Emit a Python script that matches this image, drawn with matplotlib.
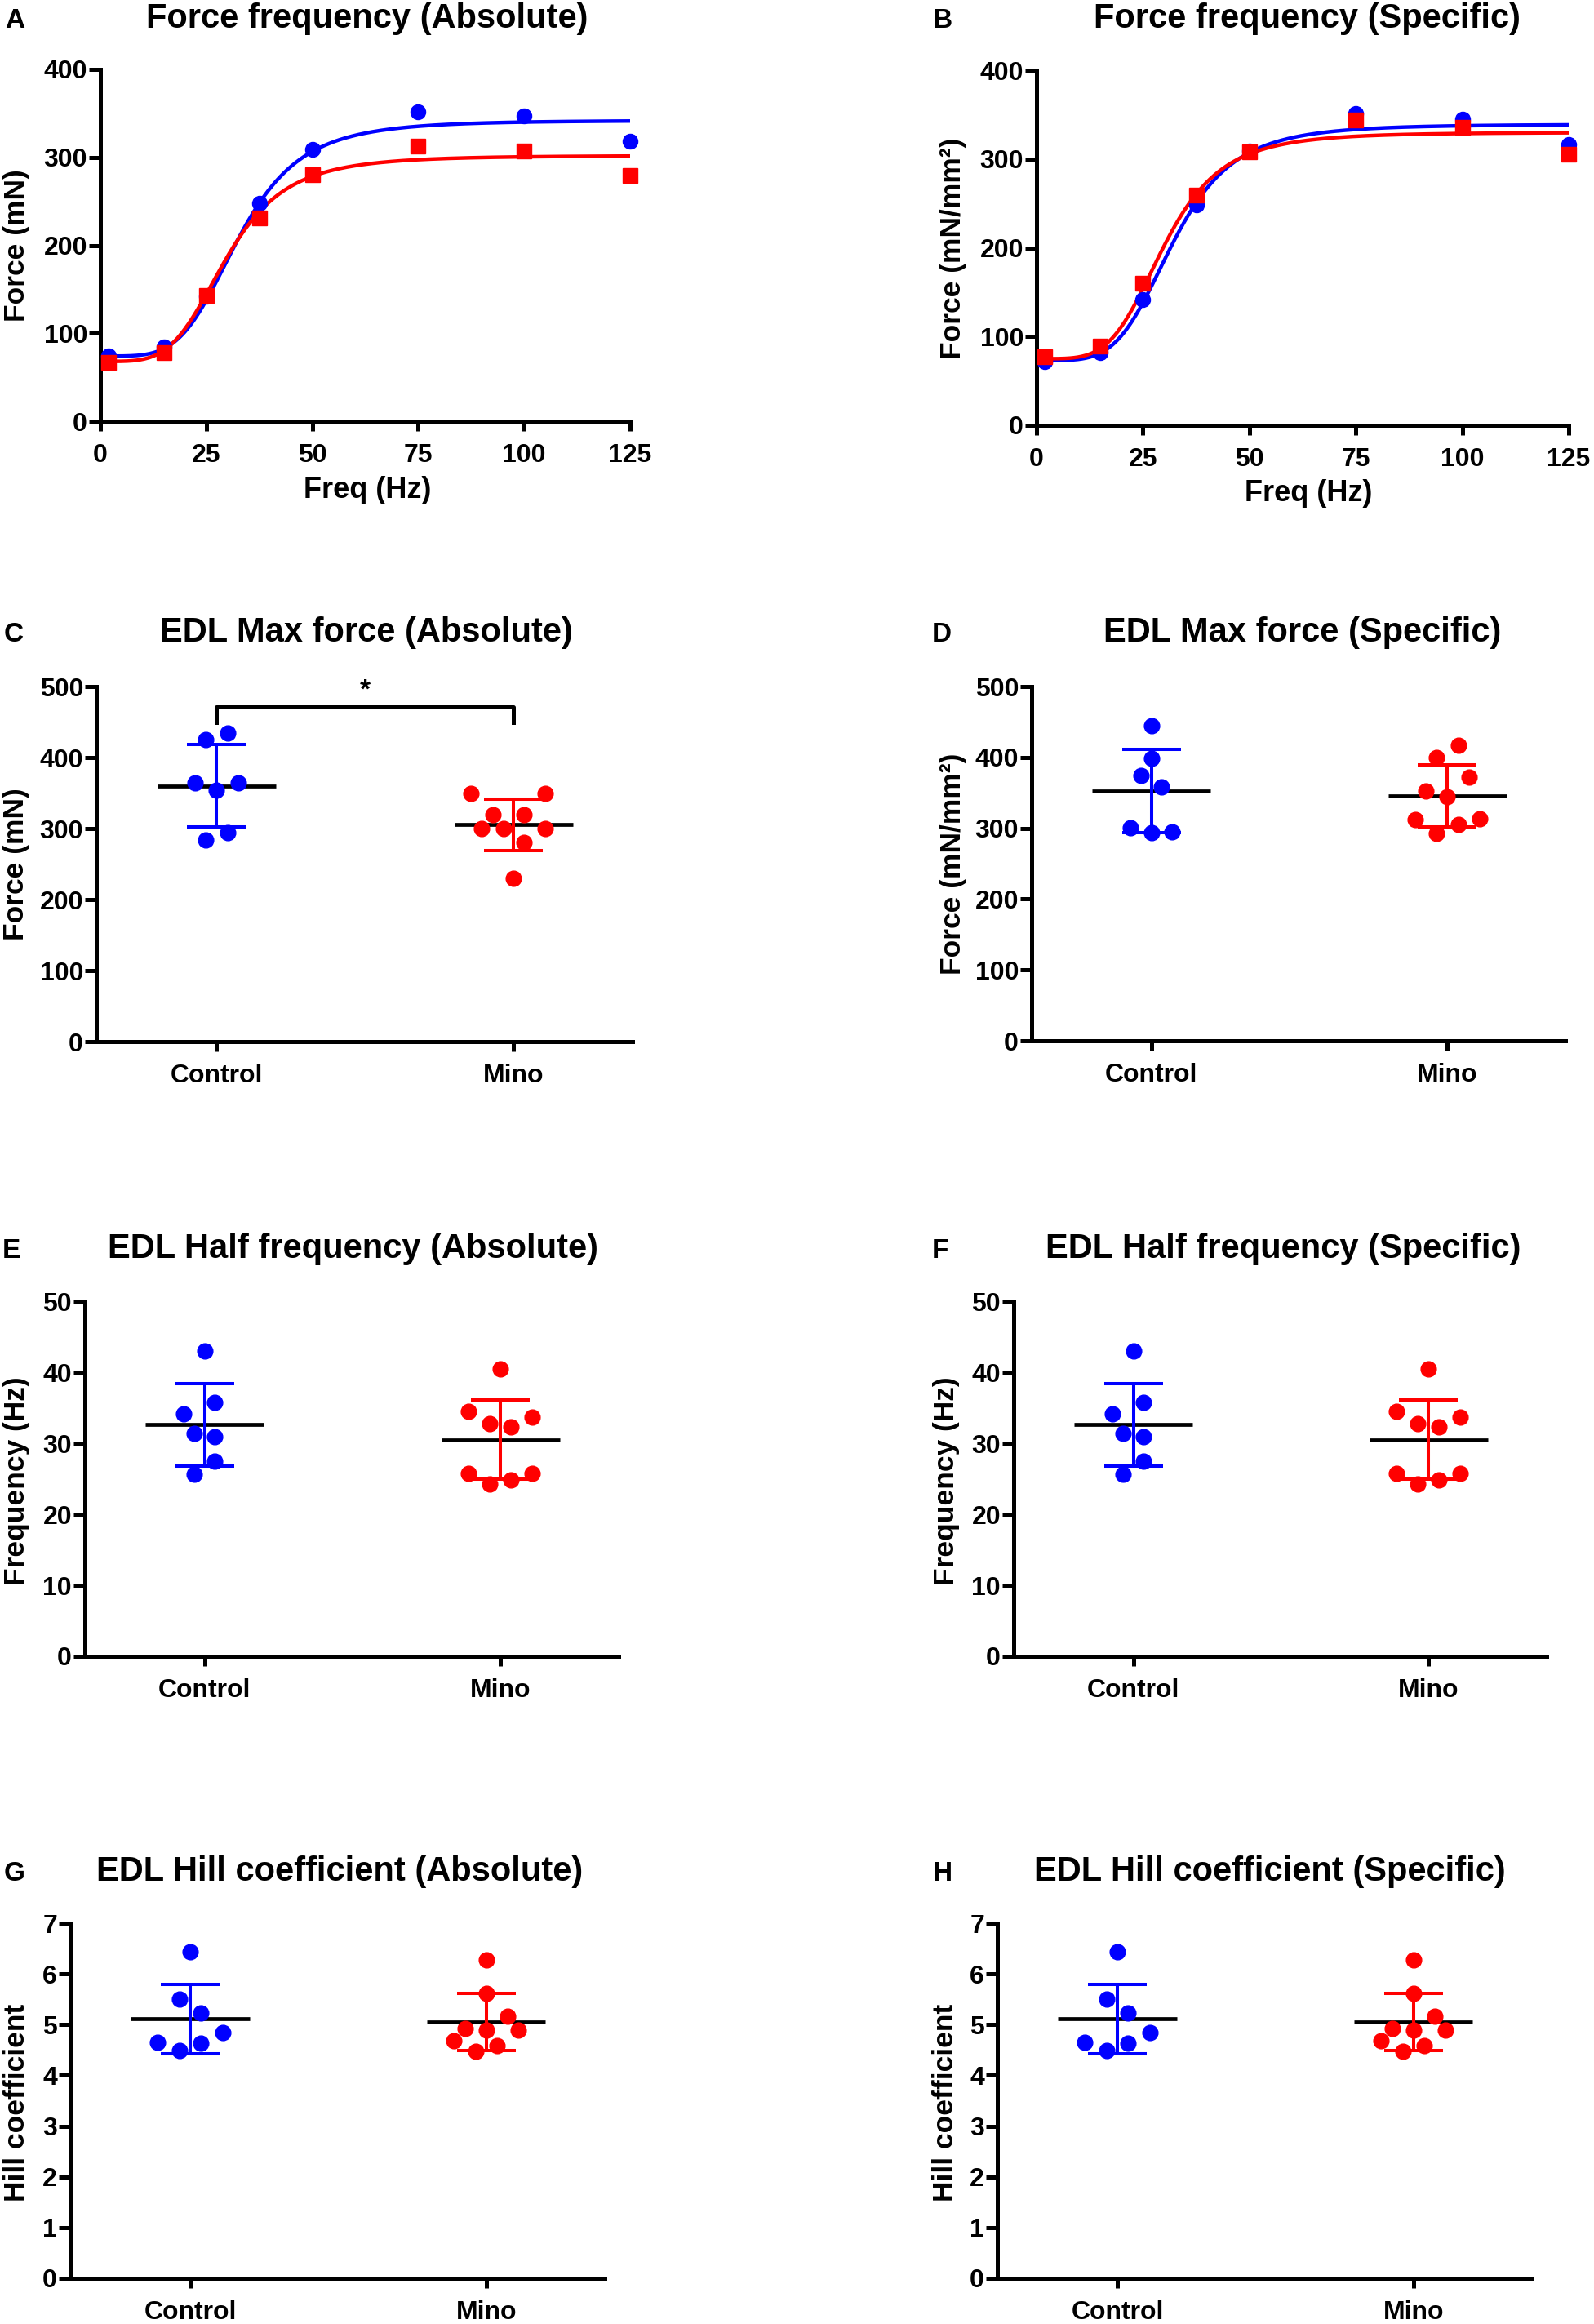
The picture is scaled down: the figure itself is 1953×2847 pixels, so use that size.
import matplotlib.pyplot as plt
import numpy as np

plt.rcParams['font.family'] = ['Liberation Sans', 'DejaVu Sans']
plt.rcParams['font.weight'] = 'bold'

BLUE = '#0000ff'
RED = '#ff0000'

# force-frequency curves (panels A, B)
freq = [2, 15, 25, 37.5, 50, 75, 100, 125]
abs_ctrl = [74.5, 84, 142, 248, 309, 352, 347, 318]
abs_mino = [67, 78, 143, 231, 280, 313, 307, 279]
spec_ctrl = [72, 82, 142, 248, 309, 351, 345, 316]
spec_mino = [77, 89, 160, 259, 308, 344, 336, 305]

# Hill fits: bottom, top, half-frequency, hill coefficient
fit_abs_ctrl = (74, 342, 32.6, 4.4)
fit_abs_mino = (68, 302, 29.7, 4.2)
fit_spec_ctrl = (73, 339, 32.1, 4.5)
fit_spec_mino = (75, 330, 30.0, 4.4)

groups = ['Control', 'Mino']

# per-animal values and their horizontal scatter (category units)
maxf_abs_ctrl = [425, 435, 364.5, 364.5, 353.6, 284, 294]
maxf_abs_ctrl_dx = [-0.037, 0.037, -0.073, 0.073, 0, -0.037, 0.037]
maxf_abs_mino = [349, 349, 319.5, 319.5, 300, 300, 300, 280.5, 229.5]
maxf_abs_mino_dx = [-0.143, 0.107, -0.071, 0.035, -0.107, -0.035, 0.107, 0.035, 0]

maxf_spec_ctrl = [444.4, 398.8, 374.7, 358.7, 300.4, 293.5, 295]
maxf_spec_ctrl_dx = [0, 0, -0.036, 0.035, -0.072, 0, 0.071]
maxf_spec_mino = [416.6, 399.7, 371.9, 352.8, 345, 311.8, 313.1, 305, 292.6]
maxf_spec_mino_dx = [0.038, -0.035, 0.074, -0.071, 0, -0.107, 0.109, 0.038, -0.035]

half_ctrl = [43.1, 35.8, 34.2, 31.4, 31.0, 27.5, 25.7]
half_ctrl_dx = [0, 0.035, -0.071, -0.035, 0.035, 0.035, -0.035]
half_mino = [40.5, 34.6, 33.8, 32.8, 32.4, 25.8, 25.8, 24.3, 24.9]
half_mino_dx = [0, -0.108, 0.107, -0.036, 0.036, -0.108, 0.107, -0.036, 0.036]

hill_ctrl = [6.43, 5.51, 5.23, 4.84, 4.65, 4.63, 4.49]
hill_ctrl_dx = [0, -0.036, 0.036, 0.109, -0.109, 0.036, -0.036]
hill_mino = [6.28, 5.61, 5.16, 4.92, 4.89, 4.89, 4.69, 4.59, 4.47]
hill_mino_dx = [0, 0, 0.072, -0.072, 0, 0.109, -0.109, 0.036, -0.036]

# significance bar in panel C
sig_bar_y = 471
sig_leg_y = 449
sig_star_y = 494
sig_label = '*'

W, H = 1953, 2847
fig = plt.figure(figsize=(W / 100, H / 100), dpi=100)


def px_axes(l, r, t, b):
    return fig.add_axes([l / W, 1 - b / H, (r - l) / W, (b - t) / H])


def px_text(x, y, s, **kw):
    fig.text(x / W, 1 - y / H, s, **kw)


def style(ax):
    for side in ['top', 'right']:
        ax.spines[side].set_visible(False)
    for side in ['left', 'bottom']:
        ax.spines[side].set_linewidth(3.6)
    ax.tick_params(axis='y', length=10, width=3.6, pad=1.5, labelsize=23)
    ax.tick_params(axis='x', length=8.6, width=3.6, pad=11, labelsize=23)


def hill(x, params):
    bottom, top, k, h = params
    return bottom + (top - bottom) * x ** h / (x ** h + k ** h)


def freq_panel(ax, ctrl, mino, fit_c, fit_m):
    xs = np.linspace(freq[0], freq[-1], 400)
    ax.plot(xs, hill(xs, fit_c), color=BLUE, lw=3.2, zorder=2)
    ax.plot(xs, hill(xs, fit_m), color=RED, lw=3.2, zorder=2)
    ax.plot(freq, ctrl, 'o', color=BLUE, ms=13, zorder=3, clip_on=False)
    ax.plot(freq, mino, 's', color=RED, ms=12.5, zorder=4, clip_on=False)
    ax.set_xlim(0, 125)
    ax.set_ylim(0, 400)
    ax.set_xticks([0, 25, 50, 75, 100, 125])
    ax.set_yticks([0, 100, 200, 300, 400])
    style(ax)


def dot_panel(ax, sets, ymax, ystep):
    for i, (vals, dx, color) in enumerate(sets):
        vals = np.asarray(vals)
        mean = vals.mean()
        sd = vals.std(ddof=1)
        ax.hlines(mean, i - 0.2, i + 0.2, color='black', lw=3.4, zorder=2)
        ax.errorbar(i, mean, yerr=sd, fmt='none', ecolor=color, elinewidth=2.9,
                    capsize=26, capthick=2.9, zorder=3)
        ax.plot(i + np.asarray(dx), vals, 'o', color=color, ms=13.5, zorder=4,
                clip_on=False)
    ax.set_xlim(-0.405, 1.4)
    ax.set_ylim(0, ymax)
    ax.set_xticks([0, 1])
    ax.set_xticklabels(groups)
    ax.set_yticks(np.arange(0, ymax + ystep / 2, ystep))
    style(ax)


# panel A / B
axA = px_axes(123, 772, 85, 516)
freq_panel(axA, abs_ctrl, abs_mino, fit_abs_ctrl, fit_abs_mino)
axB = px_axes(1270, 1922, 86, 521)
freq_panel(axB, spec_ctrl, spec_mino, fit_spec_ctrl, fit_spec_mino)

# panel C / D
axC = px_axes(118, 775, 841, 1276)
dot_panel(axC, [(maxf_abs_ctrl, maxf_abs_ctrl_dx, BLUE),
                (maxf_abs_mino, maxf_abs_mino_dx, RED)], 500, 100)
axC.plot([0, 0, 1, 1], [sig_leg_y, sig_bar_y, sig_bar_y, sig_leg_y],
         color='black', lw=3.6, clip_on=False)
axC.text(0.5, sig_star_y, sig_label, ha='center', va='center', fontsize=24)

axD = px_axes(1264, 1918, 841, 1275)
dot_panel(axD, [(maxf_spec_ctrl, maxf_spec_ctrl_dx, BLUE),
                (maxf_spec_mino, maxf_spec_mino_dx, RED)], 500, 100)

# panel E / F
axE = px_axes(104, 758, 1595, 2029)
dot_panel(axE, [(half_ctrl, half_ctrl_dx, BLUE), (half_mino, half_mino_dx, RED)], 50, 10)
axF = px_axes(1242, 1895, 1595, 2029)
dot_panel(axF, [(half_ctrl, half_ctrl_dx, BLUE), (half_mino, half_mino_dx, RED)], 50, 10)

# panel G / H
axG = px_axes(86, 741, 2356, 2791)
dot_panel(axG, [(hill_ctrl, hill_ctrl_dx, BLUE), (hill_mino, hill_mino_dx, RED)], 7, 1)
axH = px_axes(1222, 1877, 2356, 2791)
dot_panel(axH, [(hill_ctrl, hill_ctrl_dx, BLUE), (hill_mino, hill_mino_dx, RED)], 7, 1)

# titles, panel letters, axis labels
titles = [
    ('A', 'Force frequency (Absolute)', 18, 450, 34),
    ('B', 'Force frequency (Specific)', 1155, 1602, 34),
    ('C', 'EDL Max force (Absolute)', 17, 449, 786),
    ('D', 'EDL Max force (Specific)', 1154, 1596, 786),
    ('E', 'EDL Half frequency (Absolute)', 14, 432, 1541),
    ('F', 'EDL Half frequency (Specific)', 1152, 1572, 1541),
    ('G', 'EDL Hill coefficient (Absolute)', 18, 416, 2304),
    ('H', 'EDL Hill coefficient (Specific)', 1155, 1556, 2304),
]
for letter, title, lx, tx, y in titles:
    px_text(lx, y, letter, ha='center', va='baseline', fontsize=24)
    px_text(tx, y, title, ha='center', va='baseline', fontsize=30)

ylabels = [
    ('Force (mN)', 21, 301),
    ('Force (mN/mm²)', 1168, 304),
    ('Force (mN)', 20, 1059),
    ('Force (mN/mm²)', 1167, 1058),
    ('Frequency (Hz)', 21, 1814),
    ('Frequency (Hz)', 1160, 1814),
    ('Hill coefficient', 21, 2576),
    ('Hill coefficient', 1159, 2576),
]
for label, x, y in ylabels:
    px_text(x, y, label, ha='center', va='center', rotation=90, fontsize=25.5)

px_text(450, 610, 'Freq (Hz)', ha='center', va='baseline', fontsize=26)
px_text(1603, 614, 'Freq (Hz)', ha='center', va='baseline', fontsize=26)

fig.savefig('out.png', dpi=100)
